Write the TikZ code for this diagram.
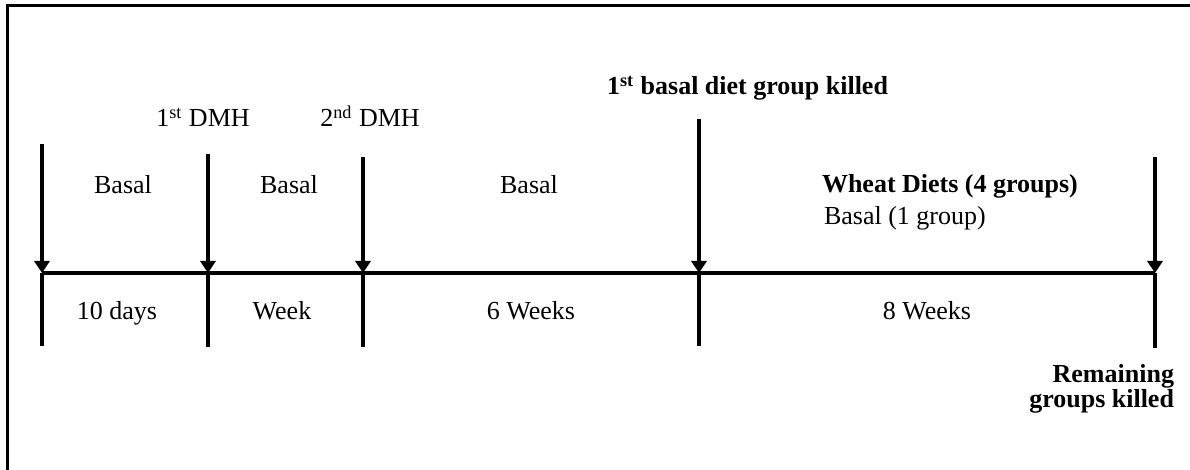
\documentclass[tikz,border=0pt]{standalone}
\usepackage{fontspec}
\setmainfont{Liberation Serif}
\usetikzlibrary{arrows.meta}

\begin{document}
\begin{tikzpicture}[x=0.5pt,y=-0.5pt,line width=2pt,font=\fontsize{13}{12.5}\selectfont,
  every node/.style={inner sep=0pt,anchor=base},
  drop/.style={-{Triangle[length=6pt,width=7.5pt]}}]
\useasboundingbox (0,0) rectangle (1190,470);
\draw[line width=1.5pt](7,470)--(7,5.5)--(1190,5.5);
% the time line
\coordinate (t0) at (42,273);
\coordinate (t1) at (208,273);
\coordinate (t2) at (363,273);
\coordinate (t3) at (699,273);
\coordinate (t4) at (1155,273);
\draw (t0)--(t4);
% arrows in, ticks down
\draw[drop] (42,144) coordinate (a0)--(t0);
\draw[drop] (208,154) coordinate (a1)--(t1);
\draw[drop] (363,157) coordinate (a2)--(t2);
\draw[drop] (699,119) coordinate (a3)--(t3);
\draw[drop] (1155,157) coordinate (a4)--(t4);
\draw (t0)--(42,346) coordinate (b0);
\draw (t1)--(208,347) coordinate (b1);
\draw (t2)--(363,347) coordinate (b2);
\draw (t3)--(699,346) coordinate (b3);
\draw (t4)--(1155,348) coordinate (b4);
% events
\node (dmh1) at (203,127) {1\textsuperscript{st} DMH};
\node (dmh2) at (370,127) {2\textsuperscript{nd} DMH};
\node[anchor=base east] (kill1) at (890,95) {\bfseries 1\textsuperscript{st} basal diet group killed};
\node[anchor=base east,align=right] (kill2) at (1176,408) {\bfseries Remaining\\\bfseries groups killed};
% diets
\node (d0) at (123,194) {Basal};
\node (d1) at (289,194) {Basal};
\node (d2) at (529,194) {Basal};
\node[anchor=base west] (d3) at (820,193) {\bfseries Wheat Diets (4 groups)};
\node[anchor=base west] (d4) at (822,225) {Basal (1 group)};
% durations
\node (p0) at (117,320) {10 days};
\node (p1) at (282,320) {Week};
\node (p2) at (531,320) {6 Weeks};
\node (p3) at (927,320) {8 Weeks};
\end{tikzpicture}
\end{document}
